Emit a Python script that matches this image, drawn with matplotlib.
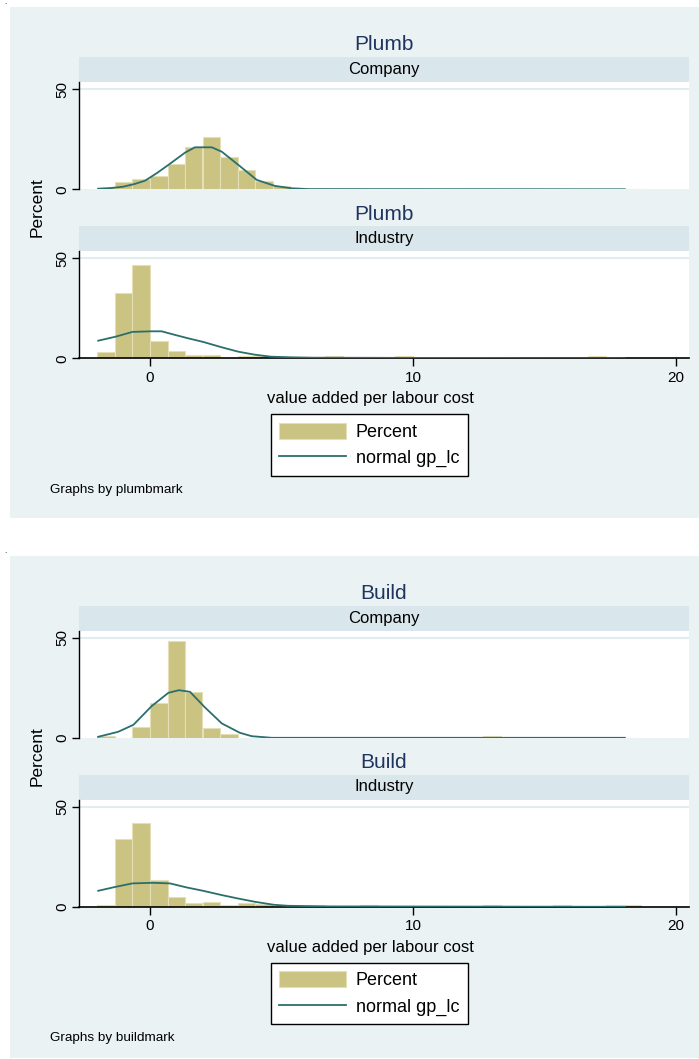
import matplotlib
matplotlib.use('Agg')
import matplotlib.pyplot as plt
from matplotlib.patches import Rectangle, Patch
from matplotlib.lines import Line2D

plt.rcParams['font.family'] = ['Liberation Sans', 'DejaVu Sans']

# common histogram bins (lower edges), value added per labour cost
bin_left = [-2.0, -1.33, -0.67, 0.0, 0.67, 1.33, 2.0, 2.67, 3.33, 4.0, 4.67,
            5.33, 6.0, 6.67, 7.33, 8.0, 8.67, 9.33, 10.0, 10.67, 11.33, 12.0,
            12.67, 13.33, 14.0, 14.67, 15.33, 16.0, 16.67, 17.33, 18.0]
bin_width = 0.667

# percent per bin
plumb_company_pct = [1.0, 3.4, 5.0, 6.7, 12.6, 20.9, 26.3, 16.0, 9.7, 4.2, 1.8,
                     0.8, 0, 0, 0, 0, 0, 0, 0, 0, 0, 0, 0, 0, 0, 0, 0, 0, 0, 0, 0]
plumb_industry_pct = [3.2, 32.5, 46.5, 8.8, 3.8, 1.7, 1.7, 0, 1.1, 1.1, 0,
                      0, 0, 1.1, 0, 0, 0, 1.1, 0, 0, 0, 0, 0, 0, 0, 0, 0, 0, 1.1, 0, 0]
build_company_pct = [1.0, 0, 5.5, 17.5, 48.5, 22.8, 5.0, 1.8, 0, 0, 0,
                     0, 0, 0, 0, 0, 0, 0, 0, 0, 0, 0, 1.0, 0, 0, 0, 0, 0, 0, 0, 0]
build_industry_pct = [1.0, 33.8, 41.7, 13.3, 5.0, 1.7, 2.5, 0.8, 2.0, 1.2, 0,
                      0.9, 0.9, 0, 0, 0.9, 0, 0, 0, 0, 0, 0, 0.9, 0, 0, 0, 0.9, 0, 0, 0.9, 0.9]

# normal density overlay (percent)
plumb_company_nx = [-1.97, -1.5, -1.02, -0.6, -0.19, 0.25, 0.70, 1.33, 1.71, 2.35,
                    2.73, 3.36, 4.06, 4.75, 5.39, 6.02, 18.06]
plumb_company_ny = [0.2, 0.6, 1.3, 2.6, 4.3, 8.0, 12.2, 18.3, 21.0, 21.0,
                    18.8, 12.2, 4.7, 1.7, 0.5, 0.1, 0.0]
plumb_industry_nx = [-1.97, -1.31, -0.67, 0.06, 0.44, 0.95, 1.45, 2.02, 2.73, 3.36,
                     3.99, 4.6, 5.39, 6.2, 18.06]
plumb_industry_ny = [8.8, 10.8, 13.2, 13.5, 13.5, 11.7, 10.0, 8.2, 5.5, 3.3,
                     1.8, 0.8, 0.5, 0.3, 0.0]
build_company_nx = [-1.97, -1.21, -0.63, 0.06, 0.70, 1.10, 1.52, 2.09, 2.73, 3.42,
                    3.87, 4.63, 18.06]
build_company_ny = [0.5, 3.0, 6.5, 15.8, 22.5, 23.8, 23.0, 15.2, 7.2, 2.5,
                    0.8, 0.0, 0.0]
build_industry_nx = [-1.97, -1.3, -0.67, 0.09, 0.76, 1.39, 2.02, 2.75, 3.33, 3.99,
                     4.72, 5.25, 6.65, 18.06]
build_industry_ny = [8.0, 10.0, 11.7, 12.0, 11.7, 9.7, 8.0, 5.8, 4.2, 2.5,
                     1.0, 0.5, 0.2, 0.0]

x_ticks = [0, 10, 20]
y_ticks = [0, 50]

BG = '#EAF2F3'
STRIP = '#D9E6EB'
TITLE = '#1F3560'
BAR = '#CBC382'
BAR_EDGE = '#E4DFB6'
LINE = '#2A6F6B'
GRID = '#E3ECEF'

W, H = 699, 1059
fig = plt.figure(figsize=(W / 100, H / 100), dpi=100)


def fx(px):
    return px / W


def fy(py):
    return 1 - py / H


def box(l, t, r, b):
    return [l / W, 1 - b / H, (r - l) / W, (b - t) / H]


def draw_panel(top, bottom, pct, nx, ny, with_xaxis):
    ax = fig.add_axes(box(79, top, 689, bottom))
    ax.bar(bin_left, pct, width=bin_width, align='edge', color=BAR,
           edgecolor=BAR_EDGE, linewidth=0.8, zorder=2)
    ax.plot(nx, ny, color=LINE, lw=1.3, zorder=3)
    ax.axhline(50, color=GRID, lw=1.5, zorder=1)
    ax.set_xlim(-2.7, 20.5)
    ax.set_ylim(0, (bottom - top) / 2.0)
    ax.set_yticks(y_ticks)
    ax.tick_params(axis='y', length=5, width=1, pad=2, labelsize=11)
    for lab in ax.get_yticklabels():
        lab.set_rotation(90)
        lab.set_va('center')
    for s in ['top', 'right']:
        ax.spines[s].set_visible(False)
    ax.spines['left'].set_linewidth(1.0)
    if with_xaxis:
        ax.set_xticks(x_ticks)
        ax.tick_params(axis='x', length=6, width=1, pad=3, labelsize=11)
        ax.spines['bottom'].set_linewidth(1.2)
    else:
        ax.set_xticks([])
        ax.spines['bottom'].set_visible(False)
    return ax


def draw_strip(top, bottom, label):
    s = fig.add_axes(box(79, top, 689, bottom))
    s.set_facecolor(STRIP)
    s.set_xticks([])
    s.set_yticks([])
    for sp in s.spines.values():
        sp.set_visible(False)
    s.text(0.5, 0.5, label, ha='center', va='center', fontsize=12,
           transform=s.transAxes)


def draw_graph(y0, y1, off, name, company, industry, mark):
    fig.add_artist(Rectangle((fx(10), fy(y1)), fx(W) - fx(10), fy(y0) - fy(y1),
                             transform=fig.transFigure, facecolor=BG,
                             edgecolor='none', zorder=0))
    fig.text(fx(5), fy(y0 - 3), '.', fontsize=6, ha='center', va='baseline')
    fig.text(fx(384), fy(off + 45), name, ha='center', va='center',
             fontsize=15, color=TITLE)
    draw_strip(off + 57, off + 82, 'Company')
    draw_panel(off + 82, off + 189.3, company[0], company[1], company[2], False)
    fig.text(fx(384), fy(off + 214), name, ha='center', va='center',
             fontsize=15, color=TITLE)
    draw_strip(off + 226, off + 251, 'Industry')
    draw_panel(off + 251, off + 358.3, industry[0], industry[1], industry[2], True)
    fig.text(fx(37), fy(off + 207.5), 'Percent', rotation=90, ha='center',
             va='center', fontsize=12.5)
    fig.text(fx(370), fy(off + 399), 'value added per labour cost',
             ha='center', va='center', fontsize=12)
    handles = [Patch(facecolor=BAR, edgecolor=BAR_EDGE, linewidth=0.8),
               Line2D([], [], color=LINE, lw=1.3)]
    leg = fig.legend(handles, ['Percent', 'normal gp_lc'], loc='center',
                     bbox_to_anchor=(fx(369.3), fy(off + 445)), frameon=True,
                     fancybox=False, edgecolor='black', framealpha=1,
                     fontsize=13, handlelength=3.7, handleheight=1.0,
                     borderpad=0.45, labelspacing=0.45, handletextpad=0.55,
                     borderaxespad=0)
    leg.get_frame().set_linewidth(1.0)
    fig.text(fx(50), fy(off + 490), 'Graphs by ' + mark, ha='left',
             va='center', fontsize=9.7)


draw_graph(7, 518, 0, 'Plumb',
           (plumb_company_pct, plumb_company_nx, plumb_company_ny),
           (plumb_industry_pct, plumb_industry_nx, plumb_industry_ny),
           'plumbmark')
draw_graph(556, 1058, 548.5, 'Build',
           (build_company_pct, build_company_nx, build_company_ny),
           (build_industry_pct, build_industry_nx, build_industry_ny),
           'buildmark')

fig.savefig('out.png', dpi=100, facecolor='white')
